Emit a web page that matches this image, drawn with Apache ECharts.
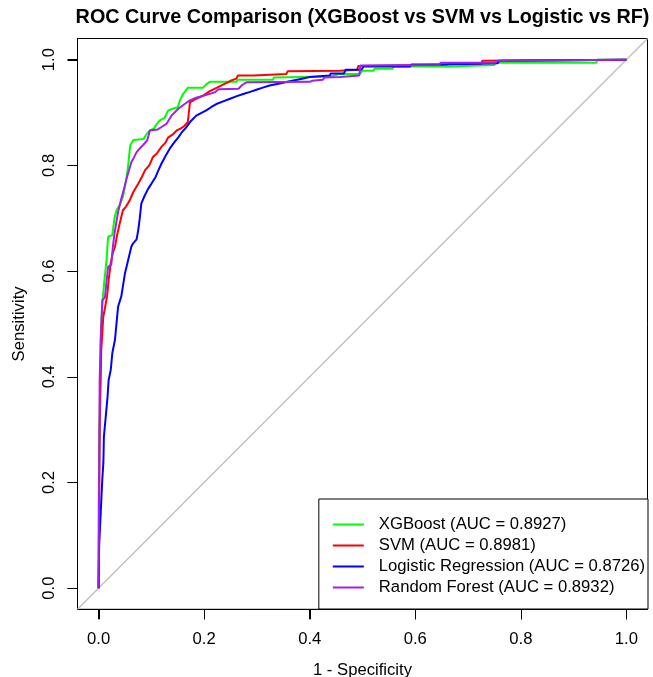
<!DOCTYPE html>
<html>
<head>
<meta charset="utf-8">
<script src="https://cdn.jsdelivr.net/npm/echarts@6/dist/echarts.min.js"></script>
<style>
html,body{margin:0;padding:0;background:#fff;}
#chart{width:653px;height:677px;}
</style>
</head>
<body>
<div id="chart"></div>
<script>
// ---- Data ----
const titleText = 'ROC Curve Comparison (XGBoost vs SVM vs Logistic vs RF)';
const xAxisTitle = '1 - Specificity';
const yAxisTitle = 'Sensitivity';
const tickValues = [0, 0.2, 0.4, 0.6, 0.8, 1.0];
const modelNames = ['XGBoost', 'SVM', 'Logistic Regression', 'Random Forest'];
const aucValues = ['0.8927', '0.8981', '0.8726', '0.8932'];
const modelColors = ['#00FF00', '#FF0000', '#0000FF', '#A020F0'];

// [FPR (1 - specificity), TPR (sensitivity)]
const xgbRoc = [[0,0],[0.000,0.15],[0.002,0.32],[0.004,0.47],[0.006,0.52],[0.008,0.55],[0.011,0.583],[0.015,0.62],[0.018,0.665],[0.026,0.668],[0.030,0.70],[0.034,0.715],[0.040,0.725],[0.046,0.740],[0.050,0.760],[0.053,0.778],[0.056,0.80],[0.058,0.82],[0.060,0.838],[0.066,0.848],[0.085,0.850],[0.090,0.858],[0.097,0.866],[0.105,0.870],[0.110,0.878],[0.116,0.885],[0.125,0.890],[0.132,0.904],[0.140,0.907],[0.150,0.910],[0.154,0.923],[0.160,0.935],[0.169,0.947],[0.198,0.947],[0.205,0.954],[0.211,0.958],[0.261,0.958],[0.263,0.962],[0.330,0.962],[0.332,0.966],[0.387,0.967],[0.440,0.968],[0.457,0.973],[0.495,0.973],[0.500,0.979],[0.521,0.979],[0.523,0.983],[0.557,0.983],[0.559,0.987],[0.665,0.987],[0.667,0.990],[0.750,0.990],[0.752,0.994],[0.943,0.994],[0.945,1.0],[1,1]];
const svmRoc = [[0,0],[0.001,0.15],[0.002,0.30],[0.005,0.45],[0.008,0.50],[0.009,0.514],[0.012,0.53],[0.016,0.552],[0.019,0.583],[0.023,0.615],[0.027,0.635],[0.031,0.646],[0.035,0.668],[0.040,0.690],[0.046,0.715],[0.052,0.722],[0.059,0.734],[0.066,0.750],[0.075,0.765],[0.082,0.778],[0.088,0.791],[0.096,0.800],[0.103,0.816],[0.110,0.822],[0.119,0.835],[0.126,0.842],[0.132,0.853],[0.140,0.858],[0.148,0.866],[0.156,0.870],[0.163,0.875],[0.169,0.882],[0.171,0.900],[0.173,0.919],[0.185,0.926],[0.198,0.932],[0.210,0.940],[0.230,0.950],[0.250,0.960],[0.261,0.964],[0.264,0.970],[0.293,0.970],[0.296,0.973],[0.356,0.973],[0.358,0.978],[0.457,0.979],[0.490,0.981],[0.492,0.988],[0.500,0.988],[0.502,0.991],[0.660,0.991],[0.665,0.992],[0.725,0.992],[0.727,0.998],[1,1]];
const logRoc = [[0,0],[0.001,0.08],[0.004,0.143],[0.007,0.206],[0.009,0.237],[0.010,0.287],[0.013,0.319],[0.017,0.363],[0.019,0.394],[0.023,0.413],[0.026,0.445],[0.031,0.470],[0.034,0.502],[0.037,0.533],[0.043,0.552],[0.050,0.596],[0.056,0.621],[0.062,0.646],[0.065,0.652],[0.072,0.660],[0.075,0.677],[0.078,0.700],[0.081,0.728],[0.087,0.742],[0.094,0.756],[0.100,0.765],[0.108,0.778],[0.113,0.790],[0.119,0.803],[0.127,0.818],[0.135,0.832],[0.143,0.843],[0.151,0.853],[0.158,0.863],[0.166,0.872],[0.175,0.884],[0.185,0.894],[0.194,0.899],[0.204,0.904],[0.213,0.910],[0.223,0.916],[0.236,0.921],[0.249,0.926],[0.262,0.931],[0.274,0.935],[0.287,0.939],[0.299,0.943],[0.311,0.947],[0.324,0.951],[0.343,0.955],[0.362,0.959],[0.381,0.963],[0.400,0.967],[0.438,0.970],[0.440,0.974],[0.465,0.974],[0.468,0.981],[0.498,0.981],[0.502,0.987],[0.590,0.987],[0.593,0.991],[0.648,0.991],[0.651,0.993],[0.756,0.993],[0.759,0.998],[1,1]];
const rfRoc = [[0,0],[0.001,0.20],[0.002,0.394],[0.004,0.47],[0.005,0.50],[0.006,0.52],[0.007,0.545],[0.012,0.550],[0.015,0.58],[0.018,0.608],[0.024,0.612],[0.027,0.646],[0.030,0.670],[0.034,0.695],[0.037,0.712],[0.043,0.737],[0.048,0.755],[0.053,0.775],[0.058,0.792],[0.062,0.806],[0.067,0.815],[0.072,0.825],[0.078,0.832],[0.084,0.838],[0.092,0.847],[0.095,0.858],[0.097,0.866],[0.112,0.868],[0.120,0.873],[0.129,0.879],[0.138,0.894],[0.151,0.907],[0.163,0.916],[0.173,0.923],[0.185,0.928],[0.200,0.932],[0.220,0.938],[0.227,0.944],[0.265,0.945],[0.272,0.952],[0.280,0.957],[0.400,0.958],[0.405,0.960],[0.425,0.962],[0.428,0.966],[0.457,0.967],[0.460,0.970],[0.494,0.970],[0.496,0.989],[0.646,0.990],[0.648,0.994],[0.752,0.994],[0.755,0.998],[1,1]];
const chanceLine = [[-0.04,-0.04],[1.04,1.04]];
const rocData = [xgbRoc, svmRoc, logRoc, rfRoc];

// ---- Chart ----
const FONT = '"Liberation Sans", Arial, Helvetica, sans-serif';
const BASE = 16.67;
const AX_MIN = -0.04, AX_MAX = 1.04, TICK_LEN = 10;
const legendNames = modelNames.map((n, i) => n + ' (AUC = ' + aucValues[i] + ')');

const series = [{
  name: 'chance', type: 'line', data: chanceLine, symbol: 'none', silent: true,
  lineStyle: { color: '#BEBEBE', width: 1.3 }, z: 1
}];
rocData.forEach((d, i) => {
  series.push({
    name: legendNames[i], type: 'line', data: d, symbol: 'none', showSymbol: false,
    color: modelColors[i],
    lineStyle: { color: modelColors[i], width: 2 }, z: 2 + i
  });
});

const titleGraphic = {
  type: 'text', x: 362.5, y: 18, z: 100,
  style: { text: titleText, font: 'bold 19.8px ' + FONT, fill: '#000',
           textAlign: 'center', textVerticalAlign: 'middle' }
};

const chart = echarts.init(document.getElementById('chart'));
chart.setOption({
  animation: false,
  graphic: [titleGraphic],
  grid: { left: 77.5, right: 5.5, top: 38.5, bottom: 67.7, show: true, outerBoundsMode: 'none',
          borderColor: '#000', borderWidth: 1 },
  xAxis: {
    type: 'value', min: AX_MIN, max: AX_MAX,
    name: xAxisTitle, nameLocation: 'middle', nameGap: 53,
    nameTextStyle: { fontFamily: FONT, fontSize: BASE, color: '#000' },
    axisLine: { show: true, onZero: false, lineStyle: { color: '#000' } },
    axisTick: { show: true, length: TICK_LEN, customValues: tickValues, lineStyle: { color: '#000' } },
    axisLabel: { customValues: tickValues, formatter: v => v.toFixed(1),
                 fontFamily: FONT, fontSize: BASE, color: '#000', margin: 22 },
    splitLine: { show: false }
  },
  yAxis: {
    type: 'value', min: AX_MIN, max: AX_MAX,
    name: yAxisTitle, nameLocation: 'middle', nameGap: 50, nameRotate: 90,
    nameTextStyle: { fontFamily: FONT, fontSize: BASE, color: '#000' },
    axisLine: { show: true, onZero: false, lineStyle: { color: '#000' } },
    axisTick: { show: true, length: TICK_LEN, customValues: tickValues, lineStyle: { color: '#000' } },
    axisLabel: { customValues: tickValues, formatter: v => v.toFixed(1), rotate: 90,
                 fontFamily: FONT, fontSize: BASE, color: '#000', margin: 20 },
    splitLine: { show: false }
  },
  legend: {
    data: legendNames, orient: 'vertical', right: 5, bottom: 68,
    icon: 'path://M0,0H31V2H0Z', itemWidth: 31, itemHeight: 18, itemGap: 4,
    padding: [17, 3, 13, 14],
    borderColor: '#000', borderWidth: 1, backgroundColor: '#fff',
    textStyle: { fontFamily: FONT, fontSize: BASE, color: '#000', padding: [0, 0, 0, 10] },
    selectedMode: false
  },
  series: series
});

// Outward tick marks, placed through the chart's own coordinate conversion
try {
  const tickEls = [];
  tickValues.forEach(v => {
    const px = chart.convertToPixel({ gridIndex: 0 }, [v, AX_MIN]);
    const py = chart.convertToPixel({ gridIndex: 0 }, [AX_MIN, v]);
    if (px) {
      const x = Math.round(px[0]) + 0.5;
      tickEls.push({ type: 'line', z: 100, silent: true,
        shape: { x1: x, y1: px[1], x2: x, y2: px[1] + TICK_LEN },
        style: { stroke: '#000', lineWidth: 1 } });
    }
    if (py) {
      const y = Math.round(py[1]) + 0.5;
      tickEls.push({ type: 'line', z: 100, silent: true,
        shape: { x1: py[0], y1: y, x2: py[0] - TICK_LEN, y2: y },
        style: { stroke: '#000', lineWidth: 1 } });
    }
  });
  chart.setOption({ graphic: [titleGraphic].concat(tickEls) });
} catch (e) { /* keep chart as is */ }
</script>
</body>
</html>
